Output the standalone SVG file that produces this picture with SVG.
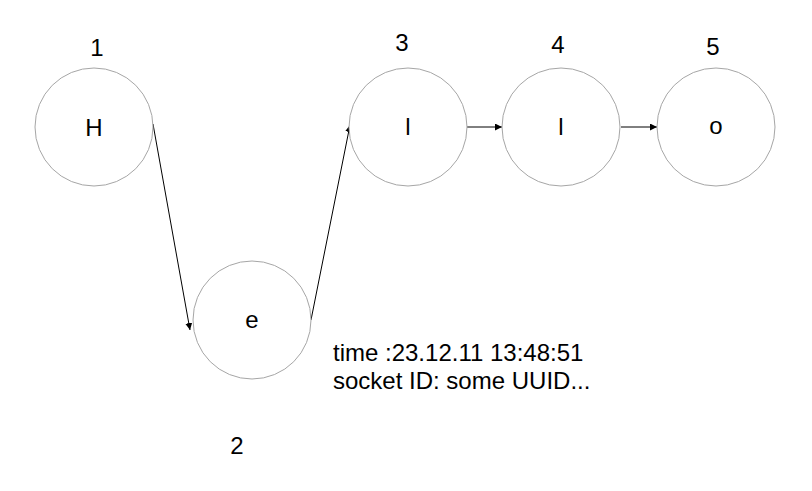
<svg xmlns="http://www.w3.org/2000/svg" width="812" height="491" viewBox="0 0 812 491">
<style>
.n{fill:#fff;stroke:#a6a6a6;stroke-width:1}
.t{font-family:"Liberation Sans",Arial,sans-serif;font-size:24px;fill:#000}
.c{stroke:#000;stroke-width:1;fill:none;marker-end:url(#ah)}
</style>
<defs>
<marker id="ah" viewBox="0 0 10 10" refX="10" refY="5" markerWidth="7" markerHeight="7" orient="auto" markerUnits="userSpaceOnUse">
<path d="M0,0 L10,5 L0,10 z" fill="#000"/>
</marker>
</defs>
<rect width="812" height="491" fill="#fff"/>
<g id="connectors">
<line class="c" x1="153" y1="124" x2="190" y2="330"/>
<line class="c" x1="311" y1="320" x2="350" y2="125"/>
<line class="c" x1="467" y1="127" x2="502" y2="127"/>
<line class="c" x1="621" y1="127" x2="657" y2="127"/>
</g>
<g id="node1">
<circle class="n" cx="94" cy="127" r="59"/>
<text class="t" x="94" y="136" text-anchor="middle">H</text>
<text class="t" x="97" y="56" text-anchor="middle">1</text>
</g>
<g id="node2">
<circle class="n" cx="252" cy="320" r="59"/>
<text class="t" x="252" y="328" text-anchor="middle">e</text>
<text class="t" x="237" y="454" text-anchor="middle">2</text>
</g>
<g id="node3">
<circle class="n" cx="408" cy="127" r="59"/>
<text class="t" x="408" y="135" text-anchor="middle">l</text>
<text class="t" x="402" y="51" text-anchor="middle">3</text>
</g>
<g id="node4">
<circle class="n" cx="561" cy="127" r="59"/>
<text class="t" x="561" y="135" text-anchor="middle">l</text>
<text class="t" x="558" y="53" text-anchor="middle">4</text>
</g>
<g id="node5">
<circle class="n" cx="716" cy="127" r="59"/>
<text class="t" x="716" y="134" text-anchor="middle">o</text>
<text class="t" x="713" y="55" text-anchor="middle">5</text>
</g>
<g id="note">
<text class="t"><tspan x="333" y="361">time :23.12.11 13:48:51</tspan><tspan x="333" y="389">socket ID: some UUID...</tspan></text>
</g>
</svg>
